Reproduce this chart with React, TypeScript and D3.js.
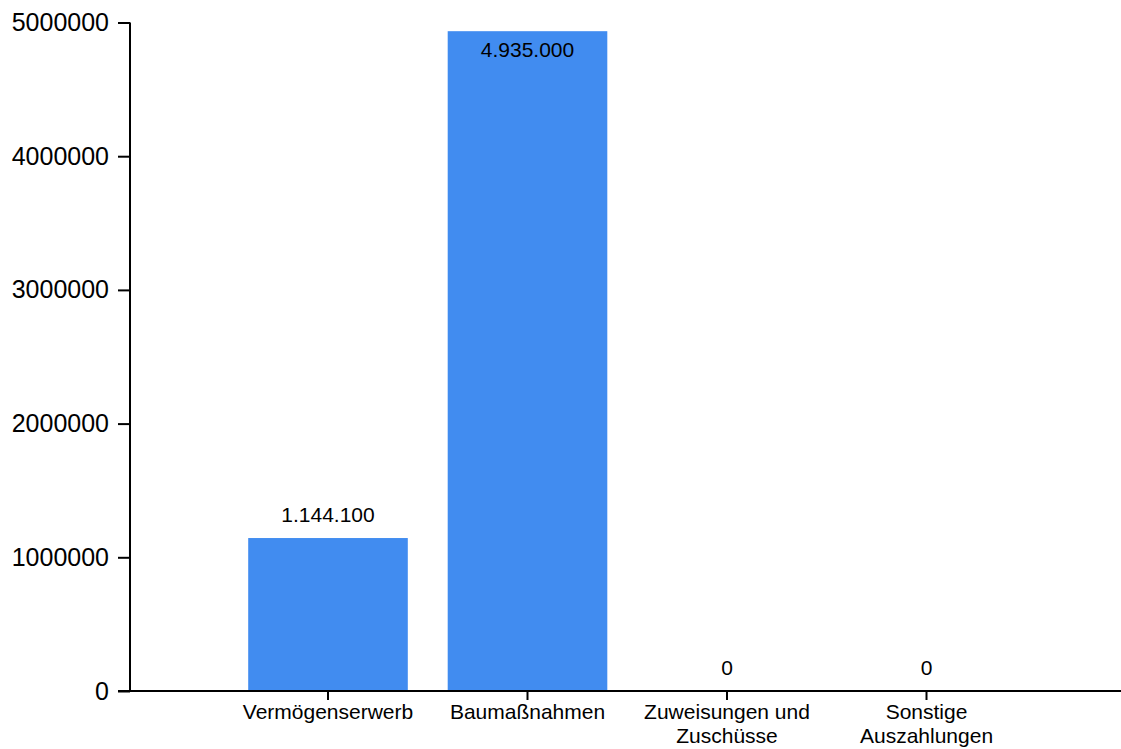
import * as d3 from "d3";
import { useEffect, useRef } from "react";

const categories = ["Vermögenserwerb", "Baumaßnahmen", "Zuweisungen und Zuschüsse", "Sonstige Auszahlungen"];
const values = [1144100, 4935000, 0, 0];
const yTicks = [0, 1000000, 2000000, 3000000, 4000000, 5000000];

const de = d3.formatLocale({ decimal: ",", thousands: ".", grouping: [3], currency: ["", " €"] });
const fmtValue = de.format(",d");

const FONT = "'Liberation Sans', Arial, sans-serif";

function wrapLines(text: string, maxWidth: number, font: string) {
  const ctx = document.createElement("canvas").getContext("2d")!;
  ctx.font = font;
  const words = text.split(" ");
  const lines: string[] = [];
  let cur = "";
  for (const w of words) {
    const next = cur ? cur + " " + w : w;
    if (cur && ctx.measureText(next).width > maxWidth) {
      lines.push(cur);
      cur = w;
    } else {
      cur = next;
    }
  }
  if (cur) lines.push(cur);
  return lines;
}

export default function App() {
  const ref = useRef<SVGSVGElement>(null);

  useEffect(() => {
    if (!ref.current) return;
    const svg = d3.select(ref.current);
    svg.selectAll("*").remove();

    const width = 1121;
    const left = 130;
    const top = 22.5;
    const bottom = 691;
    const step = 199.5;

    const x = d3
      .scaleBand()
      .domain(categories)
      .range([left - 1.5 + step * 0.5, left - 1.5 + step * 4.5])
      .paddingInner(0.2)
      .paddingOuter(0.1);
    const y = d3.scaleLinear().domain([0, 5000000]).range([bottom, top]);

    const g = svg.append("g");

    // bars
    g.selectAll("rect.bar")
      .data(values)
      .join("rect")
      .attr("class", "bar")
      .attr("x", (_, i) => x(categories[i])!)
      .attr("y", (d) => y(d))
      .attr("width", x.bandwidth())
      .attr("height", (d) => bottom - y(d))
      .attr("fill", "#418CF0");

    // value labels, inside the bar when there is no room above it
    g.selectAll("text.val")
      .data(values)
      .join("text")
      .attr("class", "val")
      .attr("x", (_, i) => x(categories[i])! + x.bandwidth() / 2)
      .attr("y", (d) => (y(d) - 34 < top ? y(d) + 26 : y(d) - 16))
      .attr("text-anchor", "middle")
      .style("font-family", FONT)
      .style("font-size", "21px")
      .style("fill", "#000")
      .text((d) => fmtValue(d));

    // y axis
    const yAxis = d3
      .axisLeft(y)
      .tickValues(yTicks)
      .tickFormat(d3.format("d"))
      .tickSize(12)
      .tickPadding(9);
    const ya = g.append("g").attr("transform", `translate(${left},0)`).call(yAxis);
    ya.select(".domain").attr("d", `M0,${top}V${bottom}`).attr("stroke", "#000").attr("stroke-width", 2);
    ya.selectAll(".tick line").attr("stroke", "#000").attr("stroke-width", 2);
    ya.selectAll(".tick text")
      .style("font-family", FONT)
      .style("font-size", "25px")
      .attr("fill", "#000");

    // x axis
    const xa = g.append("g").attr("transform", `translate(0,${bottom})`);
    xa.append("line")
      .attr("x1", left - 12)
      .attr("x2", width)
      .attr("y1", 0)
      .attr("y2", 0)
      .attr("stroke", "#000")
      .attr("stroke-width", 2);
    const ticks = xa
      .selectAll("g.tick")
      .data(categories)
      .join("g")
      .attr("class", "tick")
      .attr("transform", (d) => `translate(${x(d)! + x.bandwidth() / 2},0)`);
    ticks.append("line").attr("y1", 0).attr("y2", 9).attr("stroke", "#000").attr("stroke-width", 2);
    ticks.each(function (d) {
      const lines = wrapLines(d, 190, `21px ${FONT}`);
      const t = d3
        .select(this)
        .append("text")
        .attr("text-anchor", "middle")
        .style("font-family", FONT)
        .style("font-size", "21px")
        .style("fill", "#000");
      lines.forEach((line, i) => {
        t.append("tspan").attr("x", 0).attr("y", 28 + i * 24).text(line);
      });
    });
  }, []);

  return (
    <svg
      ref={ref}
      width={1121}
      height={749}
      style={{ position: "absolute", left: 0, top: 0, background: "#fff" }}
    />
  );
}
